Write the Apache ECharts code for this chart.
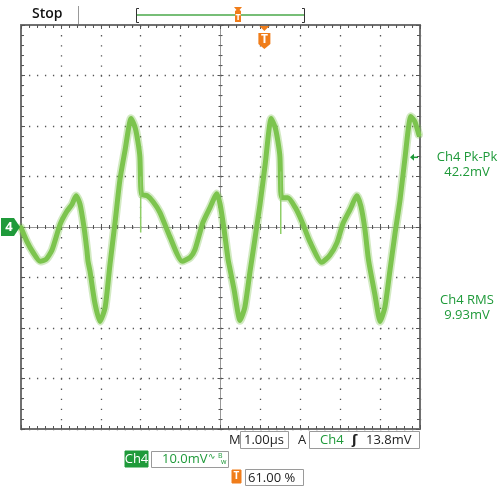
<!DOCTYPE html>
<html>
<head>
<meta charset="utf-8">
<script src="https://cdn.jsdelivr.net/npm/echarts@6/dist/echarts.min.js"></script>
<style>
  html, body { margin: 0; padding: 0; background: #fff; }
  #main { width: 503px; height: 486px; }
</style>
</head>
<body>
<div id="main"></div>
<script>
// time in µs relative to screen centre, Ch4 in mV
var timeUs = [
  -5.00, -4.85, -4.70, -4.52, -4.37, -4.22, -4.02, -3.85, -3.72, -3.62,
  -3.52, -3.42, -3.35, -3.32, -3.27, -3.15, -3.02, -2.89, -2.77, -2.64,
  -2.52, -2.39, -2.24, -2.14, -2.07, -2.02, -2.00, -1.97, -1.84, -1.69,
  -1.52, -1.27, -0.96, -0.76, -0.64, -0.44, -0.26, -0.09, -0.01, 0.09,
  0.19, 0.24, 0.34, 0.49, 0.61, 0.74, 0.86, 0.99, 1.12, 1.27,
  1.37, 1.44, 1.49, 1.51, 1.54, 1.69, 1.87, 2.04, 2.24, 2.54,
  2.74, 2.92, 3.07, 3.25, 3.42, 3.52, 3.62, 3.70, 3.75, 3.87,
  4.00, 4.12, 4.25, 4.37, 4.50, 4.62, 4.77, 4.87, 4.97
];
var ch4mV = [
  -0.1, -2.9, -5.0, -6.8, -6.4, -4.5, 0.5, 3.1, 4.5, 6.2,
  4.5, -0.1, -4.5, -6.8, -8.8, -15.0, -18.7, -15.9, -7.4, 1.1,
  9.4, 15.3, 21.5, 19.7, 16.9, 13.8, 8.0, 6.4, 6.2, 5.0,
  2.9, -1.9, -6.8, -6.0, -4.5, 0.9, 3.9, 6.6, 4.5, -0.5,
  -6.4, -8.4, -12.4, -18.5, -15.9, -8.8, -2.5, 4.5, 12.4, 21.5,
  19.7, 16.9, 13.8, 7.0, 5.8, 5.8, 3.9, 1.1, -2.9, -7.0,
  -5.6, -3.1, 0.7, 3.5, 6.2, 4.1, -0.5, -6.0, -8.4, -13.4,
  -18.7, -15.9, -8.4, -1.5, 5.4, 13.4, 21.9, 20.9, 18.3
];
// thin glitches after each big peak
var glitchTimeUs = [-2.00, -2.00, null, 1.51, 1.51];
var glitchMv = [10.0, -1.1, null, 11.0, -1.4];

var measLabels = ['Ch4 Pk-Pk', 'Ch4 RMS'];
var measValues = ['42.2mV', '9.93mV'];
var triggerLevelMv = 13.8;
var triggerPosPct = 61.00;
var timebase = '1.00µs';
var voltsPerDiv = '10.0mV';

var GREEN = '#1f9a3a';
var ORANGE = '#f07d1a';
var FONT = '"Open Sans", "DejaVu Sans", sans-serif';

var points = timeUs.map(function (t, i) { return [t, ch4mV[i]]; });
var glitch = glitchTimeUs.map(function (t, i) { return t === null ? '-' : [t, glitchMv[i]]; });

var chart = echarts.init(document.getElementById('main'));

// frame axes (edges) and centre crosshair axes
function edgeX(pos, split) {
  return {
    type: 'value', min: -5, max: 5, interval: 1, position: pos,
    axisLine: { onZero: false, lineStyle: { color: '#707070', width: 2 } },
    axisTick: { inside: true, length: 4, lineStyle: { color: '#555' } },
    minorTick: { show: true, splitNumber: 5, length: 3, lineStyle: { color: '#555' } },
    splitLine: { show: split, lineStyle: { color: '#555', width: 1.3, type: [1.3, 8.8] } },
    axisLabel: { show: false }
  };
}
function edgeY(pos, split) {
  return {
    type: 'value', min: -40, max: 40, interval: 10, position: pos,
    axisLine: { onZero: false, lineStyle: { color: '#707070', width: 2 } },
    axisTick: { inside: true, length: 4, lineStyle: { color: '#555' } },
    minorTick: { show: true, splitNumber: 5, length: 3, lineStyle: { color: '#555' } },
    splitLine: { show: split, lineStyle: { color: '#555', width: 1.3, type: [1.3, 6.68] } },
    axisLabel: { show: false }
  };
}
function centreX(pos) {
  return {
    type: 'value', min: -5, max: 5, interval: 1, position: pos,
    axisLine: { onZero: true, onZeroAxisIndex: 0, lineStyle: { color: '#999', width: 1 } },
    axisTick: { inside: true, length: 3, lineStyle: { color: '#555' } },
    minorTick: { show: true, splitNumber: 5, length: 2, lineStyle: { color: '#555' } },
    splitLine: { show: false }, axisLabel: { show: false }
  };
}
function centreY(pos) {
  return {
    type: 'value', min: -40, max: 40, interval: 10, position: pos,
    axisLine: { onZero: true, onZeroAxisIndex: 0, lineStyle: { color: '#999', width: 1 } },
    axisTick: { inside: true, length: 3, lineStyle: { color: '#555' } },
    minorTick: { show: true, splitNumber: 5, length: 2, lineStyle: { color: '#555' } },
    splitLine: { show: false }, axisLabel: { show: false }
  };
}

chart.setOption({
  backgroundColor: '#fff',
  animation: false,
  grid: { left: 21, top: 25, width: 399, height: 404 },
  xAxis: [edgeX('bottom', true), edgeX('top', false), centreX('bottom'), centreX('top')],
  yAxis: [edgeY('left', true), edgeY('right', false), centreY('left'), centreY('right')],
  series: [
    {
      type: 'line', data: points, showSymbol: false, symbol: 'none', smooth: 0.2,
      lineStyle: { color: 'rgba(125, 196, 80, 0.35)', width: 8.5, join: 'round', cap: 'round' },
      z: 3
    },
    {
      type: 'line', data: points, showSymbol: false, symbol: 'none', smooth: 0.2,
      lineStyle: { color: '#7cc44e', width: 5, join: 'round', cap: 'round' },
      z: 4
    },
    {
      type: 'line', data: glitch, showSymbol: false, symbol: 'none', connectNulls: false,
      lineStyle: { color: '#8fce68', width: 1.5 },
      z: 4
    }
  ]
});

var zeroPt = chart.convertToPixel({ gridIndex: 0 }, [-5, 0]);
var trigLvl = chart.convertToPixel({ gridIndex: 0 }, [5, triggerLevelMv]);
var trigPos = chart.convertToPixel({ gridIndex: 0 }, [-5 + triggerPosPct / 10, 0]);

function txt(x, y, s, opt) {
  opt = opt || {};
  return {
    type: 'text', x: x, y: y, z: 20,
    style: {
      text: s, fill: opt.fill || '#222', font: opt.font || ('13px ' + FONT),
      textAlign: opt.align || 'left', textVerticalAlign: 'middle'
    }
  };
}
function box(x, y, w, h, fill, stroke) {
  return {
    type: 'rect', z: 15, shape: { x: x, y: y, width: w, height: h },
    style: { fill: fill || '#fff', stroke: stroke || '#9a9a9a', lineWidth: 1 }
  };
}

var g = [];
// top status bar
g.push(txt(32, 14, 'Stop', { font: '600 14px ' + FONT, fill: '#111' }));
g.push({ type: 'line', z: 15, shape: { x1: 78.5, y1: 6, x2: 78.5, y2: 24 }, style: { stroke: '#999', lineWidth: 1 } });
g.push({ type: 'polyline', z: 15, shape: { points: [[139, 8.5], [136.5, 8.5], [136.5, 22.5], [139, 22.5]] }, style: { stroke: '#333', lineWidth: 1, fill: null } });
g.push({ type: 'polyline', z: 15, shape: { points: [[302, 8.5], [304.5, 8.5], [304.5, 22.5], [302, 22.5]] }, style: { stroke: '#333', lineWidth: 1, fill: null } });
g.push({ type: 'line', z: 15, shape: { x1: 137, y1: 15, x2: 304, y2: 15 }, style: { stroke: '#4aa84a', lineWidth: 1.5 } });
// record trigger marker
g.push({ type: 'polygon', z: 16, shape: { points: [[234, 7], [242, 7], [239.5, 10], [241, 11], [241, 22], [235, 22], [235, 11], [236.5, 10]] }, style: { fill: ORANGE } });
g.push(txt(238, 17, 'T', { font: 'bold 9px ' + FONT, fill: '#fff', align: 'center' }));
// screen trigger position marker
var tx = trigPos[0];
g.push({ type: 'polygon', z: 16, shape: { points: [[tx - 5, 26], [tx + 5, 26], [tx, 31]] }, style: { fill: ORANGE } });
g.push({ type: 'polygon', z: 16, shape: { points: [[tx - 6, 33], [tx + 6, 33], [tx + 6, 44], [tx, 49], [tx - 6, 44]] }, style: { fill: ORANGE } });
g.push(txt(tx, 40, 'T', { font: 'bold 12px ' + FONT, fill: '#fff', align: 'center' }));

// channel ground marker
var zy = zeroPt[1];
g.push({ type: 'polygon', z: 16, shape: { points: [[1, zy - 9], [14, zy - 9], [20, zy], [14, zy + 9], [1, zy + 9]] }, style: { fill: GREEN } });
g.push(txt(9, zy, '4', { font: 'bold 13px ' + FONT, fill: '#fff', align: 'center' }));

// trigger level arrow on the right
var ly = trigLvl[1];
g.push({ type: 'polygon', z: 16, shape: { points: [[410, ly], [414, ly - 3.5], [414, ly + 3.5]] }, style: { fill: GREEN } });
g.push({ type: 'line', z: 16, shape: { x1: 413, y1: ly, x2: 418, y2: ly }, style: { stroke: GREEN, lineWidth: 1.5 } });

// measurements
g.push(txt(467, 157, measLabels[0], { fill: GREEN, align: 'center' }));
g.push(txt(467, 172, measValues[0], { fill: GREEN, align: 'center' }));
g.push(txt(467, 300, measLabels[1], { fill: GREEN, align: 'center' }));
g.push(txt(467, 315, measValues[1], { fill: GREEN, align: 'center' }));

// bottom readouts
g.push(txt(229, 440, 'M', { fill: '#222' }));
g.push(box(240.5, 431.5, 48, 17));
g.push(txt(244, 440, timebase, { fill: '#222' }));
g.push(txt(298, 440, 'A', { fill: '#222' }));
g.push(box(309.5, 431.5, 110, 17));
g.push(txt(320, 440, 'Ch4', { fill: GREEN }));
g.push(txt(352, 440, 'ʃ', { fill: '#222', font: 'bold 13px ' + FONT }));
g.push(txt(366, 440, triggerLevelMv.toFixed(1) + 'mV', { fill: '#222' }));

g.push(box(125, 451, 23, 16, GREEN, GREEN));
g.push(txt(136.5, 459, 'Ch4', { fill: '#fff', align: 'center' }));
g.push(box(151.5, 451.5, 77, 16));
g.push(txt(162, 459.5, voltsPerDiv, { fill: GREEN }));
g.push(txt(208, 457, '∿', { fill: GREEN, font: '9px "DejaVu Sans", sans-serif' }));
g.push(txt(218, 456, 'B', { fill: GREEN, font: '7px ' + FONT }));
g.push(txt(221, 462, 'w', { fill: GREEN, font: '7px ' + FONT }));

g.push(box(232, 470, 9, 13, ORANGE, ORANGE));
g.push(txt(236.5, 476.5, 'T', { fill: '#fff', font: 'bold 10px ' + FONT, align: 'center' }));
g.push(box(245.5, 469.5, 58, 16));
g.push(txt(248, 478, triggerPosPct.toFixed(2) + ' %', { fill: '#222' }));

chart.setOption({ graphic: g });

window.addEventListener('resize', function () { chart.resize(); });
</script>
</body>
</html>
